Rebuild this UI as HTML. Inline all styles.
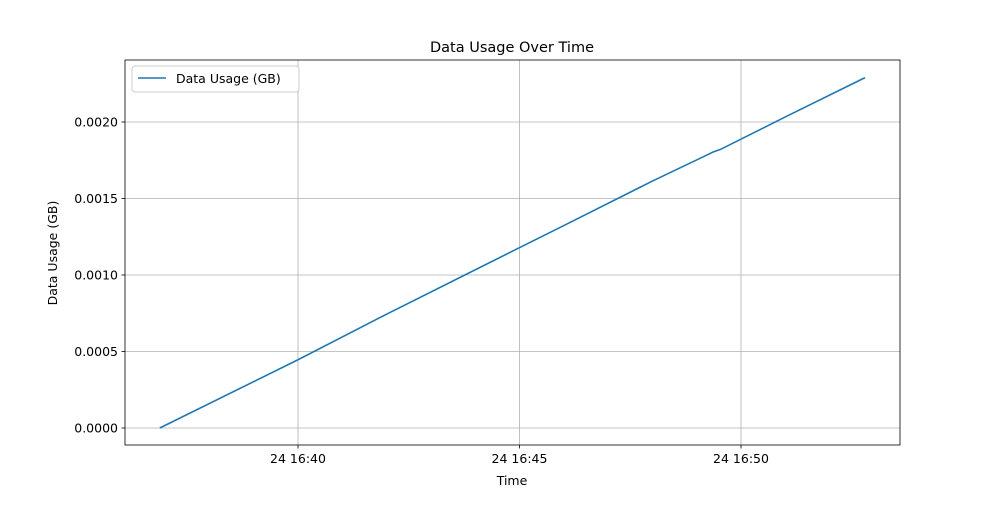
<!DOCTYPE html>
<html><head><meta charset="utf-8"><style>
body{margin:0;background:#fff;font-family:"Liberation Sans","DejaVu Sans",sans-serif}
svg text{font-family:"DejaVu Sans","Liberation Sans",sans-serif}
</style></head><body>
<svg id="c" width="1000" height="500" xmlns="http://www.w3.org/2000/svg"></svg>
<script>
// minutes offset from 16:40
const times=[-3.12,0,2,4.11,6,8,9.2,9.37,9.53,11,12.8];
const usage=[0,0.000446,0.000744,0.00105,0.001323,0.001614,0.00178,0.001804,0.00182,0.002033,0.00229];
const xTickVals=[0,5,10];
const xTickLabels=["24 16:40","24 16:45","24 16:50"];
const yTickVals=[0,0.0005,0.001,0.0015,0.002];
const yTickLabels=["0.0000","0.0005","0.0010","0.0015","0.0020"];
const L=125,R=900,T=60,B=445;
const xs=m=>298+m*44.3;
const ys=v=>428-v*153000;
const svg=document.getElementById('c');
const NS='http://www.w3.org/2000/svg';
function mk(t,a,p){const e=document.createElementNS(NS,t);for(const k in a)e.setAttribute(k,a[k]);(p||svg).appendChild(e);return e;}
// grid
xTickVals.forEach((v,i)=>{const x=xs(v);
 const g=mk('line',{x1:x,x2:x,y1:T,y2:B,stroke:'#b0b0b0','stroke-width':0.8});
 
 mk('line',{x1:x,x2:x,y1:B,y2:B+3.5,stroke:'#000','stroke-width':0.8});
 const t=mk('text',{x:x,y:B+18,'text-anchor':'middle','font-size':12.5});t.textContent=xTickLabels[i];
 });
yTickVals.forEach((v,i)=>{const y=ys(v);
 const g=mk('line',{x1:L,x2:R,y1:y,y2:y,stroke:'#b0b0b0','stroke-width':0.8});
 
 mk('line',{x1:L-3.5,x2:L,y1:y,y2:y,stroke:'#000','stroke-width':0.8});
 const t=mk('text',{x:L-7,y:y+4.5,'text-anchor':'end','font-size':12.5});t.textContent=yTickLabels[i];
 });
// line
const p=mk('polyline',{points:times.map((m,i)=>xs(m)+','+ys(usage[i])).join(' '),fill:'none',stroke:'#1f77b4','stroke-width':1.6});

// frame
const f=mk('rect',{x:L,y:T,width:R-L,height:B-T,fill:'none',stroke:'#000','stroke-width':0.8});

// labels
let t=mk('text',{x:512,y:52,'text-anchor':'middle','font-size':14.5});t.textContent='Data Usage Over Time';

t=mk('text',{x:512,y:485,'text-anchor':'middle','font-size':12.5});t.textContent='Time';

t=mk('text',{x:57,y:253,'text-anchor':'middle','font-size':12.5,transform:'rotate(-90 57 253)'});t.textContent='Data Usage (GB)';

// legend
const lg=mk('g',{});
mk('rect',{x:132,y:66,width:167,height:26,rx:3,fill:'#fff',stroke:'#ccc','stroke-width':1},lg);
mk('line',{x1:138,x2:166,y1:78,y2:78,stroke:'#1f77b4','stroke-width':1.6},lg);
t=mk('text',{x:176,y:83,'font-size':12.5},lg);t.textContent='Data Usage (GB)';

</script>
</body></html>
